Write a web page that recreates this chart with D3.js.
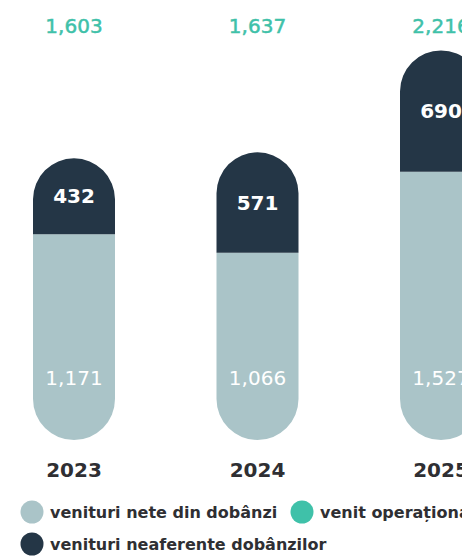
<!DOCTYPE html>
<meta charset="utf-8">
<script src="https://d3js.org/d3.v7.min.js"></script>
<style>
  body { margin: 0; background: #fff; }
  text { font-family: "DejaVu Sans", sans-serif; }
</style>
<div id="my_dataviz"></div>
<script>
// data
var years = ["2023", "2024", "2025"];
var netInterest = [1171, 1066, 1527];      // venituri nete din dobanzi
var nonInterest = [432, 571, 690];         // venituri neaferente dobanzilor
var totals = [1603, 1637, 2216];           // venit operational
var legendLabels = ["venituri nete din dobânzi", "venit operațional", "venituri neaferente dobânzilor"];

var colLight = "#aac4c8", colDark = "#243646", colTeal = "#3fc1a9", colText = "#2f2f33";

var width = 462, height = 557;

var svg = d3.select("#my_dataviz")
  .append("svg")
    .attr("width", width)
    .attr("height", height);

// scales
var x = d3.scalePoint()
  .domain(years)
  .range([74, 441]);
var barW = 82, r = barW / 2;

var y = d3.scaleLinear()
  .domain([0, 2216])
  .range([440, 50.6]);

var rows = years.map(function(yr, i) {
  return {year: yr, light: netInterest[i], dark: nonInterest[i], total: totals[i]};
});

var g = svg.selectAll(".bar")
  .data(rows)
  .enter().append("g")
    .attr("class", "bar");

// light segment, rounded bottom
g.append("path")
  .attr("fill", colLight)
  .attr("d", function(d) {
    var x0 = x(d.year) - r, x1 = x(d.year) + r;
    var yt = y(d.light), yb = y(0);
    return "M" + x0 + "," + yt + "L" + x1 + "," + yt +
      "L" + x1 + "," + (yb - r) +
      "A" + r + "," + r + " 0 0 1 " + x0 + "," + (yb - r) + "Z";
  });

// dark segment, rounded top
g.append("path")
  .attr("fill", colDark)
  .attr("d", function(d) {
    var x0 = x(d.year) - r, x1 = x(d.year) + r;
    var yt = y(d.light + d.dark), yb = y(d.light);
    return "M" + x0 + "," + yb + "L" + x0 + "," + (yt + r) +
      "A" + r + "," + r + " 0 0 1 " + x1 + "," + (yt + r) +
      "L" + x1 + "," + yb + "Z";
  });

// labels inside dark
g.append("text")
  .attr("x", function(d) { return x(d.year); })
  .attr("y", function(d) { return (y(d.light + d.dark) + y(d.light)) / 2; })
  .attr("dy", "0.36em")
  .attr("text-anchor", "middle")
  .attr("fill", "#fff")
  .style("font-size", "20px")
  .style("font-weight", "bold")
  .text(function(d) { return d3.format(",")(d.dark); });

// labels inside light, fixed near the bottom
g.append("text")
  .attr("x", function(d) { return x(d.year); })
  .attr("y", y(0) - 62)
  .attr("dy", "0.36em")
  .attr("text-anchor", "middle")
  .attr("fill", "#fff")
  .style("font-size", "20px")
  .text(function(d) { return d3.format(",")(d.light); });

// totals on top
g.append("text")
  .attr("x", function(d) { return x(d.year); })
  .attr("y", 33)
  .attr("text-anchor", "middle")
  .attr("fill", colTeal)
  .attr("stroke", colTeal)
  .attr("stroke-width", 0.5)
  .style("font-size", "20px")
  .text(function(d) { return d3.format(",")(d.total); });

// years
g.append("text")
  .attr("x", function(d) { return x(d.year); })
  .attr("y", 477)
  .attr("text-anchor", "middle")
  .attr("fill", colText)
  .style("font-size", "20px")
  .style("font-weight", "bold")
  .text(function(d) { return d.year; });

// legend
var legend = [
  {label: legendLabels[0], color: colLight, x: 32, y: 512},
  {label: legendLabels[1], color: colTeal, x: 302, y: 512},
  {label: legendLabels[2], color: colDark, x: 32, y: 544}
];
var lg = svg.selectAll(".legend")
  .data(legend)
  .enter().append("g")
    .attr("class", "legend")
    .attr("transform", function(d) { return "translate(" + d.x + "," + d.y + ")"; });

lg.append("circle")
  .attr("r", 11.5)
  .attr("fill", function(d) { return d.color; });

lg.append("text")
  .attr("x", 18)
  .attr("dy", "0.35em")
  .attr("fill", colText)
  .style("font-size", "16px")
  .style("font-weight", "bold")
  .text(function(d) { return d.label; });
</script>
